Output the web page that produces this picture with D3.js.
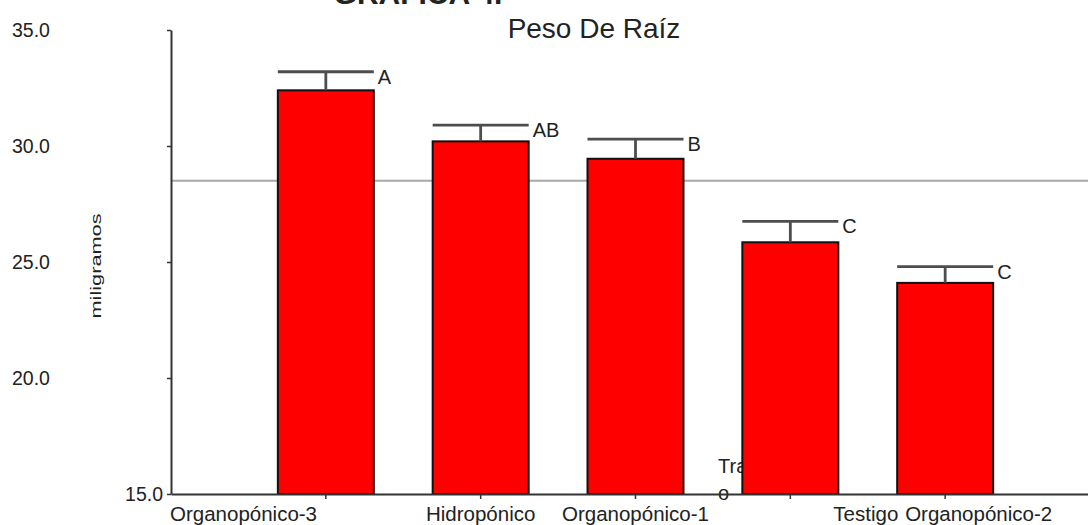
<!DOCTYPE html>
<html>
<head>
<meta charset="utf-8">
<script src="https://cdn.jsdelivr.net/npm/d3@7/dist/d3.min.js"></script>
<style>
  html, body { margin: 0; padding: 0; background: #fff; }
  svg { display: block; }
  text { font-family: "Liberation Sans", Arial, sans-serif; fill: #222; }
</style>
</head>
<body>
<svg id="chart" width="1088" height="525"></svg>
<script>
// Treatments, mean root weight (mg), upper error limit and grouping letters
const categories = ["Organopónico-3", "Hidropónico", "Organopónico-1", "Testigo", "Organopónico-2"];
const means = [32.4, 30.2, 29.45, 25.85, 24.1];
const upperLimits = [33.2, 30.9, 30.3, 26.75, 24.8];
const groupLetters = ["A", "AB", "B", "C", "C"];
const grandMean = 28.5;
const yTicks = [15, 20, 25, 30, 35];

const svg = d3.select("#chart");
const W = 1088, H = 525;

const axisX = 171;
const y = d3.scaleLinear().domain([15, 35]).range([494, 30]);
const x = d3.scaleBand()
  .domain(categories)
  .range([axisX, 1100])
  .paddingInner(0.38)
  .paddingOuter(0.69);
const bw = x.bandwidth();

// Heading (partly above the canvas) and subtitle
svg.append("text")
  .attr("x", 418).attr("y", 4)
  .attr("text-anchor", "middle")
  .style("font-size", "30px").style("font-weight", "bold")
  .text("GRAFICA 4.");

svg.append("text")
  .attr("x", 594).attr("y", 38)
  .attr("text-anchor", "middle")
  .style("font-size", "28px")
  .text("Peso De Raíz");

// Grand mean reference line
svg.append("line")
  .attr("x1", axisX).attr("x2", W)
  .attr("y1", y(grandMean)).attr("y2", y(grandMean))
  .attr("stroke", "#a8a8a8").attr("stroke-width", 2);

// Axis title, mostly hidden behind the fourth bar
const xTitle = svg.append("g");
xTitle.append("text").attr("x", 718).attr("y", 473).style("font-size", "20px").text("Tratamient");
xTitle.append("text").attr("x", 718).attr("y", 500).style("font-size", "20px").text("o");

// Bars
svg.append("g").selectAll("rect")
  .data(categories)
  .join("rect")
  .attr("x", d => x(d))
  .attr("y", (d, i) => y(means[i]))
  .attr("width", bw)
  .attr("height", (d, i) => y(15) - y(means[i]))
  .attr("fill", "#ff0000")
  .attr("stroke", "#111")
  .attr("stroke-width", 2);

// Error bars: stem plus a cap as wide as the bar
const err = svg.append("g").attr("stroke", "#4d4d4d").attr("stroke-width", 2.8);
err.selectAll("line.stem")
  .data(categories)
  .join("line")
  .attr("class", "stem")
  .attr("x1", d => x(d) + bw / 2).attr("x2", d => x(d) + bw / 2)
  .attr("y1", (d, i) => y(means[i])).attr("y2", (d, i) => y(upperLimits[i]));
err.selectAll("line.cap")
  .data(categories)
  .join("line")
  .attr("class", "cap")
  .attr("x1", d => x(d)).attr("x2", d => x(d) + bw)
  .attr("y1", (d, i) => y(upperLimits[i])).attr("y2", (d, i) => y(upperLimits[i]));

// Grouping letters at the right end of each cap
svg.append("g").selectAll("text")
  .data(categories)
  .join("text")
  .attr("x", d => x(d) + bw + 4)
  .attr("y", (d, i) => y(upperLimits[i]) + 12)
  .style("font-size", "20px")
  .text((d, i) => groupLetters[i]);

// Y axis
const yAxis = svg.append("g")
  .attr("transform", `translate(${axisX},0)`)
  .call(d3.axisLeft(y).tickValues(yTicks).tickSize(4).tickSizeOuter(0).tickFormat(d3.format(".1f")));
yAxis.select(".domain").attr("stroke", "#333").attr("stroke-width", 2);
yAxis.selectAll(".tick line").attr("stroke", "#333").attr("stroke-width", 1.5);
yAxis.selectAll(".tick text")
  .style("font-size", "19.5px")
  .attr("fill", "#222")
  .attr("text-anchor", d => d === 15 ? "end" : "start")
  .attr("x", d => d === 15 ? -8 : 12 - axisX);

// X axis
const xAxis = svg.append("g")
  .attr("transform", `translate(0,${y(15)})`)
  .call(d3.axisBottom(x).tickSize(5).tickSizeOuter(0).tickFormat(""));
xAxis.select(".domain").attr("stroke", "#333").attr("stroke-width", 2);
xAxis.selectAll(".tick line").attr("stroke", "#333").attr("stroke-width", 1.5);

// Category labels (first starts at the axis, last two pushed right)
const labelPlace = [
  d => ({ anchor: "start", x: axisX - 1 }),
  d => ({ anchor: "middle", x: x(d) + bw / 2 }),
  d => ({ anchor: "middle", x: x(d) + bw / 2 }),
  d => ({ anchor: "start", x: x(d) + bw / 2 + 43 }),
  d => ({ anchor: "end", x: x(d) + bw / 2 + 107 })
];
svg.append("g").selectAll("text")
  .data(categories)
  .join("text")
  .attr("x", (d, i) => labelPlace[i](d).x)
  .attr("y", 521)
  .attr("text-anchor", (d, i) => labelPlace[i](d).anchor)
  .style("font-size", "20.5px")
  .text(d => d);

// Y axis title
svg.append("text")
  .attr("transform", "translate(101,266) rotate(-90)")
  .attr("text-anchor", "middle")
  .attr("textLength", 105)
  .attr("lengthAdjust", "spacingAndGlyphs")
  .style("font-size", "15px")
  .text("miligramos");
</script>
</body>
</html>
